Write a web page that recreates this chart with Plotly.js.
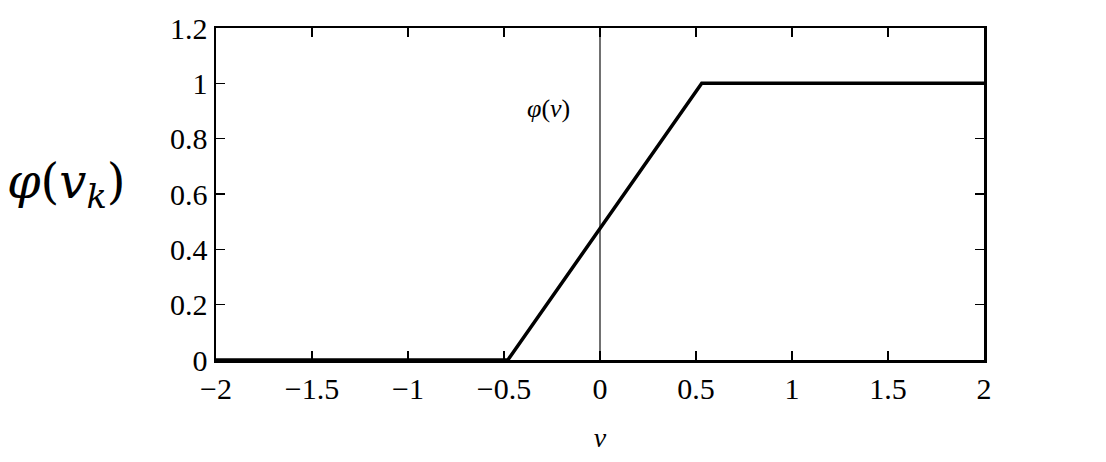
<!DOCTYPE html>
<html>
<head>
<meta charset="utf-8">
<script src="https://cdn.plot.ly/plotly-3.0.1.min.js"></script>
<style>html,body{margin:0;padding:0;background:#fff;}#chart{width:1106px;height:462px;}</style>
</head>
<body>
<div id="chart"></div>
<script>
// Piecewise-linear activation
const vValues = [-2, -0.48, 0.53, 2];
const phiValues = [0, 0, 1, 1];
const xTickVals = [-2, -1.5, -1, -0.5, 0, 0.5, 1, 1.5, 2];
const xTickText = ['\u22122', '\u22121.5', '\u22121', '\u22120.5', '0', '0.5', '1', '1.5', '2'];
const yTickVals = [0, 0.2, 0.4, 0.6, 0.8, 1, 1.2];
const yTickText = ['0', '0.2', '0.4', '0.6', '0.8', '1', '1.2'];

const traces = [
  {x: [0, 0], y: [0, 1.2], mode: 'lines', line: {color: '#111', width: 1.2}, hoverinfo: 'skip'},
  {x: vValues, y: phiValues, mode: 'lines', line: {color: '#000', width: 3.5}}
];

const serif = "'Liberation Serif', 'Times New Roman', Times, serif";
const tickFont = {family: serif, size: 30, color: '#000'};
const layout = {
  width: 1106, height: 462,
  margin: {l: 216, r: 122, t: 28, b: 102},
  paper_bgcolor: '#fff', plot_bgcolor: '#fff',
  showlegend: false,
  font: {family: serif, color: '#000'},
  xaxis: {
    range: [-2, 2], tickvals: xTickVals, ticktext: xTickText,
    ticks: 'inside', ticklen: 9, tickwidth: 1.5, tickcolor: '#000',
    showline: true, linecolor: '#000', linewidth: 2.5, mirror: 'ticks',
    showgrid: false, zeroline: false, tickfont: tickFont, ticklabelstandoff: 0,
    title: {text: '<i>v</i>', font: {family: serif, size: 28, color: '#000'}, standoff: 24}
  },
  yaxis: {
    range: [0, 1.2], tickvals: yTickVals, ticktext: yTickText,
    ticks: 'inside', ticklen: 9, tickwidth: 1.5, tickcolor: '#000',
    showline: true, linecolor: '#000', linewidth: 2.5, mirror: 'ticks',
    showgrid: false, zeroline: false, tickfont: tickFont
  },
  annotations: [
    {x: -0.27, y: 0.91, xref: 'x', yref: 'y', text: '<i>\u03c6</i>(<i>v</i>)', showarrow: false,
     font: {family: serif, size: 26, color: '#000'}},
    {x: -0.195, y: 0.53, xref: 'paper', yref: 'paper', xanchor: 'center', yanchor: 'middle',
     text: '<i>\u03c6</i>(<i>v</i><sub><i>k</i></sub>)', showarrow: false,
     font: {family: "'DejaVu Serif', serif", size: 48, color: '#000'}}
  ]
};
Plotly.newPlot('chart', traces, layout, {displayModeBar: false, staticPlot: true});
</script>
</body>
</html>
